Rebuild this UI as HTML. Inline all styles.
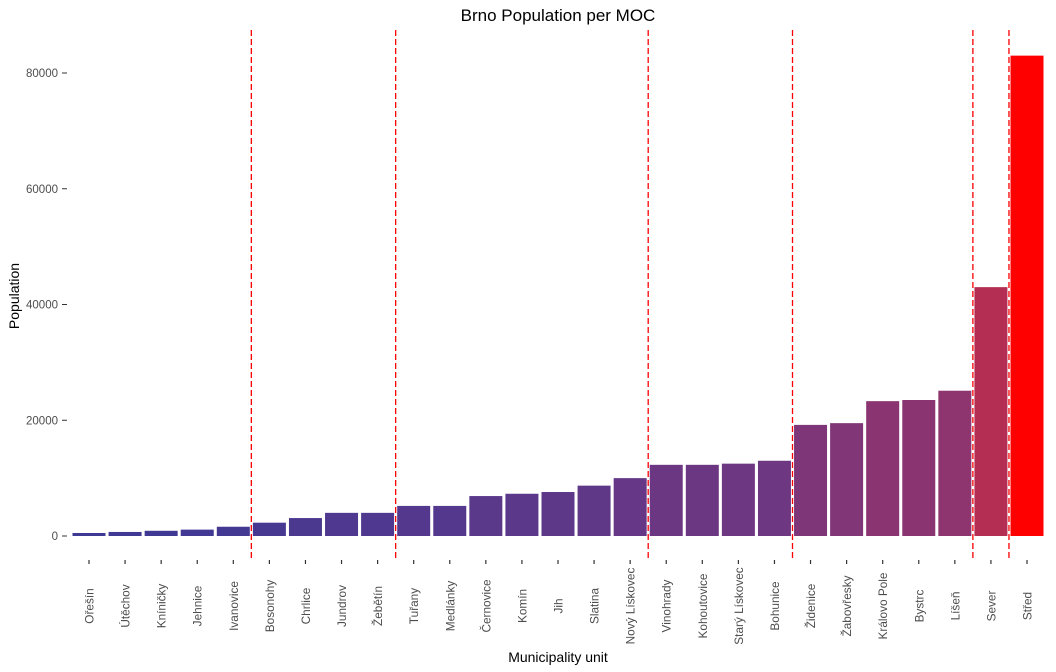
<!DOCTYPE html>
<html><head><meta charset="utf-8"><style>
body{margin:0;background:#fff;}
svg{font-family:"Liberation Sans",sans-serif;display:block}
</style></head><body>
<svg id="chart" width="1056" height="672">
<text x="558" y="21" text-anchor="middle" font-size="17" fill="#000">Brno Population per MOC</text>
<text x="558" y="662" text-anchor="middle" font-size="14" fill="#000">Municipality unit</text>
<text transform="translate(19,296) rotate(-90)" text-anchor="middle" font-size="14" fill="#000">Population</text>
<g id="yaxis"></g><g id="bars"></g><g id="vlines"></g><g id="xaxis"></g>
</svg>
<script>
const categories=["Ořešín","Útěchov","Kníničky","Jehnice","Ivanovice","Bosonohy","Chrlice","Jundrov","Žebětín","Tuřany","Medlánky","Černovice","Komín","Jih","Slatina","Nový Lískovec","Vinohrady","Kohoutovice","Starý Lískovec","Bohunice","Židenice","Žabovřesky","Královo Pole","Bystrc","Líšeň","Sever","Střed"];
const populations=[520,700,900,1100,1600,2300,3100,4000,4000,5200,5200,6900,7300,7600,8700,10000,12300,12300,12500,13000,19200,19500,23300,23500,25100,43000,83000];
const yTicks=[0,20000,40000,60000,80000];
const groupBreaks=[4.5,8.5,15.5,19.5,24.5,25.5];
const NS="http://www.w3.org/2000/svg";
const y0=536,yScale=(536-73)/80000;
function yPos(v){return y0-v*yScale;}
const step=(1027-89)/26;
function xPos(i){return 89+i*step;}
const bw=33;
const vmin=Math.min(...populations),vmax=Math.max(...populations);
function toLin(c){c/=255;return c<=0.04045?c/12.92:Math.pow((c+0.055)/1.055,2.4);}
function fromLin(c){c=c<=0.0031308?12.92*c:1.055*Math.pow(c,1/2.4)-0.055;return Math.max(0,Math.min(255,Math.round(c*255)));}
function f(t){return t>0.008856?Math.cbrt(t):7.787*t+16/116;}
function fi(t){return t>0.206893?t*t*t:(t-16/116)/7.787;}
function toLab(rgb){const [r,g,b]=rgb.map(toLin);
const X=(0.4124*r+0.3576*g+0.1805*b)/0.95047,Y=0.2126*r+0.7152*g+0.0722*b,Z=(0.0193*r+0.1192*g+0.9505*b)/1.08883;
return [116*f(Y)-16,500*(f(X)-f(Y)),200*(f(Y)-f(Z))];}
function fromLab(L){const fy=(L[0]+16)/116,fx=fy+L[1]/500,fz=fy-L[2]/200;
const X=fi(fx)*0.95047,Y=fi(fy),Z=fi(fz)*1.08883;
const r=3.2406*X-1.5372*Y-0.4986*Z,g=-0.9689*X+1.8758*Y+0.0415*Z,b=0.0557*X-0.2040*Y+1.0570*Z;
return `rgb(${fromLin(r)},${fromLin(g)},${fromLin(b)})`;}
const lowLab=toLab([62,57,148]),highLab=toLab([255,0,0]);
function col(v){const t=(v-vmin)/(vmax-vmin);return fromLab(lowLab.map((a,k)=>a+(highLab[k]-a)*t));}
function mk(tag,attrs,parent){const e=document.createElementNS(NS,tag);for(const k in attrs)e.setAttribute(k,attrs[k]);parent.appendChild(e);return e;}
const yg=document.getElementById('yaxis');
yTicks.forEach(v=>{
const t=mk('text',{x:58,y:yPos(v)+4,'text-anchor':'end','font-size':11.5,fill:'#4d4d4d'},yg);t.textContent=v;


const l=mk('line',{x1:62,x2:67,y1:yPos(v),y2:yPos(v),stroke:'#333','stroke-width':1},yg);


});
const bg=document.getElementById('bars'),xg=document.getElementById('xaxis');
categories.forEach((c,i)=>{
const v=populations[i];
const r=mk('rect',{x:xPos(i)-bw/2,y:yPos(v),width:bw,height:y0-yPos(v),fill:col(v)},bg);


const tk=mk('line',{x1:xPos(i),x2:xPos(i),y1:560,y2:564,stroke:'#333','stroke-width':1.2},xg);


const t=mk('text',{transform:`translate(${xPos(i)+4.5},606) rotate(-90)`,'text-anchor':'middle','font-size':11.8,fill:'#4d4d4d'},xg);
t.textContent=c;


});
const vg=document.getElementById('vlines');
groupBreaks.forEach(b=>{
const l=mk('line',{x1:xPos(b),x2:xPos(b),y1:30,y2:558,stroke:'#ff0000','stroke-width':1.3,'stroke-dasharray':'6,3'},vg);


});
</script>
</body></html>
